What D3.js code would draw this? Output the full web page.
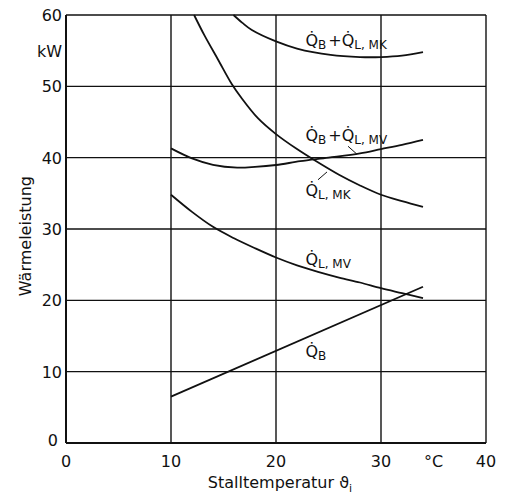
<!DOCTYPE html>
<html>
<head>
<meta charset="utf-8">
<script src="https://cdn.jsdelivr.net/npm/d3@7"></script>
<style>
  body { margin: 0; background: #fff; }
  svg text { font-family: "DejaVu Sans", sans-serif; fill: #111; }
</style>
</head>
<body>
<div id="chart"></div>
<script>
// Wärmeleistung vs. Stalltemperatur

// series: [temperature °C, kW]
const qB = [[10, 6.5], [34, 21.9]];
const qLMV = [[10, 34.8], [12, 32.4], [14, 30.3], [16, 28.7], [18, 27.3], [20, 26.0],
  [22, 24.9], [24, 24.0], [26, 23.2], [28, 22.5], [30, 21.7], [32, 21.0], [34, 20.3]];
const qLMK = [[12.2, 60], [13.2, 57.1], [14.5, 53.7], [15.8, 50.3], [16.7, 48.4],
  [18.3, 45.5], [20, 43.3], [22, 41.2], [23.6, 39.7], [26, 37.6], [28, 36.1],
  [30, 34.8], [32, 33.9], [34, 33.1]];
const qBLMK = [[15.95, 60], [16.8, 58.9], [17.7, 57.9], [20, 56.3], [22, 55.3],
  [25.2, 54.4], [28, 54.1], [30, 54.1], [32, 54.3], [34, 54.8]];
const qBLMV = [[10, 41.3], [12, 39.9], [14, 39.0], [16.3, 38.6], [18, 38.7], [20, 38.97],
  [22.3, 39.5], [25, 40.0], [28, 40.6], [30, 41.2], [32, 41.8], [34, 42.5]];

const xTicks = [0, 10, 20, 30, 40];
const yTicks = [0, 10, 20, 30, 40, 50, 60];

const width = 509;
const height = 496;
const margin = { top: 15, right: 23, bottom: 53, left: 66 };

const svg = d3.select('#chart')
  .append('svg')
  .attr('width', width)
  .attr('height', height);

const x = d3.scaleLinear()
  .domain([0, 40])
  .range([margin.left, width - margin.right]);

const y = d3.scaleLinear()
  .domain([0, 60])
  .range([height - margin.bottom, margin.top]);

// Grid (also forms the frame)
svg.append('g')
  .selectAll('line')
  .data(xTicks)
  .enter().append('line')
  .attr('x1', d => x(d)).attr('x2', d => x(d))
  .attr('y1', y(0)).attr('y2', y(60))
  .attr('stroke', '#111')
  .attr('stroke-width', d => d === 0 ? 2 : 1.4);

svg.append('g')
  .selectAll('line')
  .data(yTicks)
  .enter().append('line')
  .attr('x1', x(0)).attr('x2', x(40))
  .attr('y1', d => y(d)).attr('y2', d => y(d))
  .attr('stroke', '#111')
  .attr('stroke-width', d => d === 0 ? 2 : 1.4);

// Y tick labels
svg.append('g')
  .selectAll('text')
  .data(yTicks)
  .enter().append('text')
  .attr('x', d => d === 0 ? x(0) - 8 : x(0) - 4)
  .attr('y', d => d === 0 ? y(d) + 3 : y(d) + 6)
  .attr('text-anchor', 'end')
  .style('font-size', '16px')
  .text(d => d);

svg.append('text')
  .attr('x', x(0) - 4)
  .attr('y', y(55) + 6)
  .attr('text-anchor', 'end')
  .style('font-size', '16px')
  .text('kW');

// X tick labels
svg.append('g')
  .selectAll('text')
  .data(xTicks)
  .enter().append('text')
  .attr('x', d => x(d))
  .attr('y', y(0) + 24)
  .attr('text-anchor', 'middle')
  .style('font-size', '16px')
  .text(d => d);

svg.append('text')
  .attr('x', x(35))
  .attr('y', y(0) + 24)
  .attr('text-anchor', 'middle')
  .style('font-size', '16px')
  .text('°C');

// Axis titles
const xTitle = svg.append('text')
  .attr('x', x(20) + 4)
  .attr('y', height - 8)
  .attr('text-anchor', 'middle')
  .style('font-size', '16px');
xTitle.append('tspan').text('Stalltemperatur ϑ');
xTitle.append('tspan').attr('dy', 4).style('font-size', '11px').text('i');

svg.append('text')
  .attr('transform', `translate(31,${y(29)}) rotate(-90)`)
  .attr('text-anchor', 'middle')
  .style('font-size', '16px')
  .text('Wärmeleistung');

// Curves
const line = d3.line()
  .x(d => x(d[0]))
  .y(d => y(d[1]))
  .curve(d3.curveCatmullRom);

svg.selectAll('.curve')
  .data([qB, qLMV, qLMK, qBLMK, qBLMV])
  .enter().append('path')
  .attr('class', 'curve')
  .attr('d', line)
  .attr('fill', 'none')
  .attr('stroke', '#111')
  .attr('stroke-width', 1.8);

// Curve labels (position in data units)
const labels = [
  { t: 22.8, v: 55.6, parts: [['Q̇', 'B'], ['+Q̇', 'L, MK']] },
  { t: 22.8, v: 42.3, parts: [['Q̇', 'B'], ['+Q̇', 'L, MV']] },
  { t: 22.8, v: 34.6, parts: [['Q̇', 'L, MK']] },
  { t: 22.8, v: 25.0, parts: [['Q̇', 'L, MV']] },
  { t: 22.8, v: 12.0, parts: [['Q̇', 'B']] }
];

labels.forEach(l => {
  const txt = svg.append('text')
    .attr('x', x(l.t))
    .attr('y', y(l.v))
    .style('font-size', '16px');
  l.parts.forEach((p, i) => {
    txt.append('tspan').attr('dy', i ? -3 : 0).attr('dx', i ? 2 : 0).text(p[0]);
    txt.append('tspan').attr('dy', 3).style('font-size', '12px').text(p[1]);
  });
});

// Leader lines
const leaders = [
  [[26.86, 41.6], [27.7, 40.5]],
  [[24.0, 36.9], [24.86, 38.0]]
];

svg.selectAll('.leader')
  .data(leaders)
  .enter().append('line')
  .attr('class', 'leader')
  .attr('x1', d => x(d[0][0])).attr('y1', d => y(d[0][1]))
  .attr('x2', d => x(d[1][0])).attr('y2', d => y(d[1][1]))
  .attr('stroke', '#111')
  .attr('stroke-width', 1);
</script>
</body>
</html>
